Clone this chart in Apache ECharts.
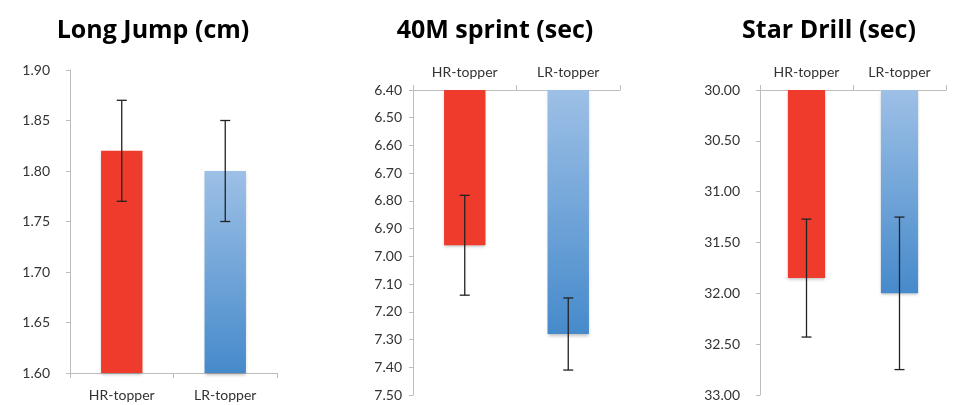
<!DOCTYPE html>
<html>
<head>
<meta charset="utf-8">
<script src="https://cdn.jsdelivr.net/npm/echarts@6/dist/echarts.min.js"></script>
<style>
html,body{margin:0;padding:0;background:#fff;}
#chart{width:960px;height:405px;}
</style>
</head>
<body>
<div id="chart"></div>
<script>
// ---- data ----
const categories = ['HR-topper', 'LR-topper'];
const titles = ['Long Jump (cm)', '40M sprint (sec)', 'Star Drill (sec)'];

const longJumpMean = [1.82, 1.80];
const longJumpErr  = [0.05, 0.05];
const longJumpTicks = { min: 1.60, max: 1.90, interval: 0.05 };

const sprintMean = [6.96, 7.28];
const sprintErr  = [0.18, 0.13];
const sprintTicks = { min: 6.4, max: 7.5, interval: 0.1 };

const starMean = [31.85, 32.00];
const starErr  = [0.58, 0.75];
const starTicks = { min: 30, max: 33, interval: 0.5 };

// ---- styles ----
const FONT = 'Lato, "Open Sans", sans-serif';
const TITLE_FONT = '"Open Sans", Lato, sans-serif';
const RED = '#EE3B2B';
const BLUE = new echarts.graphic.LinearGradient(0, 0, 0, 1, [
  { offset: 0, color: '#9DC0E6' },
  { offset: 1, color: '#468ACB' }
]);
const AXIS_COLOR = '#BDBDBD';
const LABEL_COLOR = '#333333';

const panels = [
  { mean: longJumpMean, err: longJumpErr, ticks: longJumpTicks, inverse: false,
    grid: { left: 70, top: 70, width: 207, height: 303 }, titleX: 153, catMargin: 15 },
  { mean: sprintMean, err: sprintErr, ticks: sprintTicks, inverse: true,
    grid: { left: 413, top: 90, width: 207, height: 305 }, titleX: 495, catMargin: 11 },
  { mean: starMean, err: starErr, ticks: starTicks, inverse: true,
    grid: { left: 760, top: 90, width: 186, height: 305 }, titleX: 829, catMargin: 11 }
];

const grids = [], xAxes = [], yAxes = [], series = [], graphics = [];

panels.forEach((p, i) => {
  grids.push(Object.assign({ containLabel: false }, p.grid));
  xAxes.push({
    type: 'category', gridIndex: i, data: categories,
    position: p.inverse ? 'top' : 'bottom',
    boundaryGap: true,
    axisLine: { lineStyle: { color: AXIS_COLOR, width: 1 } },
    axisTick: { show: true, length: 5, lineStyle: { color: AXIS_COLOR } },
    axisLabel: { color: LABEL_COLOR, fontFamily: FONT, fontSize: 14, margin: p.catMargin },
    splitLine: { show: false }
  });
  yAxes.push({
    type: 'value', gridIndex: i, inverse: p.inverse,
    min: p.ticks.min, max: p.ticks.max, interval: p.ticks.interval,
    axisLine: { show: true, lineStyle: { color: AXIS_COLOR, width: 1 } },
    axisTick: { show: true, length: 4, lineStyle: { color: AXIS_COLOR } },
    axisLabel: {
      color: LABEL_COLOR, fontFamily: FONT, fontSize: 14, margin: i === 1 ? 11 : 20,
      formatter: v => v.toFixed(2)
    },
    splitLine: { show: false }
  });
  series.push({
    type: 'bar', xAxisIndex: i, yAxisIndex: i, barWidth: '40%',
    data: p.mean.map((v, k) => ({
      value: v,
      itemStyle: {
        color: k === 0 ? RED : BLUE,
        shadowColor: 'rgba(0,0,0,0.25)', shadowBlur: 3, shadowOffsetY: 2
      }
    })),
    silent: true, animation: false, z: 2
  });
  series.push({
    type: 'custom', xAxisIndex: i, yAxisIndex: i,
    data: p.mean.map((v, k) => [k, v - p.err[k], v + p.err[k]]),
    renderItem: function (params, api) {
      const x = api.value(0);
      const a = api.coord([x, api.value(1)]);
      const b = api.coord([x, api.value(2)]);
      const half = 5;
      const style = { stroke: '#222', lineWidth: 1.3 };
      return {
        type: 'group',
        children: [
          { type: 'line', shape: { x1: a[0], y1: a[1], x2: b[0], y2: b[1] }, style },
          { type: 'line', shape: { x1: a[0] - half, y1: a[1], x2: a[0] + half, y2: a[1] }, style },
          { type: 'line', shape: { x1: b[0] - half, y1: b[1], x2: b[0] + half, y2: b[1] }, style }
        ]
      };
    },
    z: 5, animation: false, silent: true
  });
  graphics.push({
    type: 'text', x: p.titleX, y: 31,
    style: {
      text: titles[i], fill: '#000', font: 'bold 25px ' + TITLE_FONT,
      textAlign: 'center', textVerticalAlign: 'middle'
    }
  });
});

const chart = echarts.init(document.getElementById('chart'), null, { renderer: 'canvas' });
chart.setOption({
  animation: false,
  backgroundColor: '#ffffff',
  grid: grids,
  xAxis: xAxes,
  yAxis: yAxes,
  series: series,
  graphic: graphics
});
</script>
</body>
</html>
